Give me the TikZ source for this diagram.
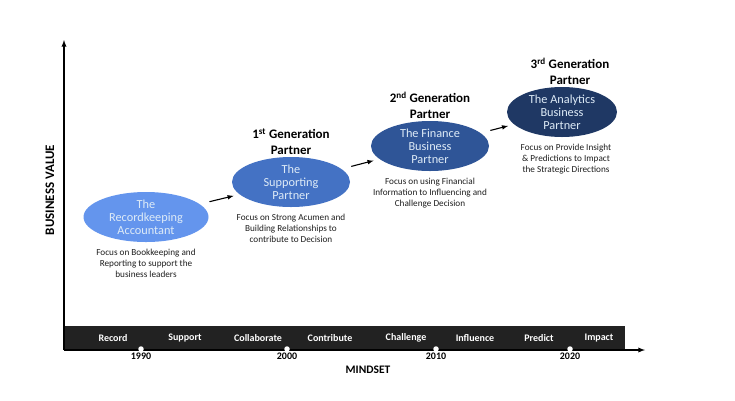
\documentclass[tikz,border=0pt]{standalone}
\usepackage{fontspec}
\setmainfont{Carlito}
\usetikzlibrary{shapes.geometric, arrows, positioning}
\definecolor{recblue}{RGB}{100,149,237}
\definecolor{supblue}{RGB}{68,114,196}
\definecolor{finblue}{RGB}{47,85,151}
\definecolor{anablue}{RGB}{31,56,100}
\definecolor{elltext}{RGB}{222,235,247}
\definecolor{bandgray}{RGB}{34,34,34}
\definecolor{desctext}{RGB}{30,30,30}
\begin{document}
\begin{tikzpicture}[x=1pt, y=-1pt, node distance=2pt,
	role/.style={ellipse, inner sep=0pt, minimum height=50pt, text=elltext, align=center, font=\fontsize{12.3}{13}\selectfont},
	gen/.style={align=center, inner sep=0pt, font=\bfseries\fontsize{13}{16}\selectfont},
	desc/.style={align=center, inner sep=0pt, text=desctext, font=\fontsize{9.2}{11}\selectfont},
	word/.style={text=white, font=\bfseries\fontsize{10}{11}\selectfont},
	tick/.style={circle, fill=white, inner sep=0pt, minimum size=5.5pt},
	year/.style={inner sep=1pt, font=\bfseries\fontsize{10}{11}\selectfont},
	axislabel/.style={font=\bfseries\fontsize{11.5}{12}\selectfont}]
		\useasboundingbox (0,0) rectangle (735,400);
		
		\node[fill=bandgray, anchor=north west, inner sep=0pt, minimum width=561pt, minimum height=24pt] (band) at (64,326) {};
		\coordinate (origin) at (64,350);
		\coordinate (ytop) at (64,40);
		\coordinate (xend) at (645,350);
		\draw[-latex, line width=1.3pt] (origin) to (ytop);
		\draw[-latex, line width=1.3pt] (origin) to (xend);
		
		\node[role, fill=recblue, minimum width=125pt] (rec) at (146,217) {The\\Recordkeeping\\Accountant};
		\node[role, fill=supblue, minimum width=118pt] (sup) at (291,182) {The\\Supporting\\Partner};
		\node[role, fill=finblue, minimum width=118pt] (fin) at (430,146) {The Finance\\Business\\Partner};
		\node[role, fill=anablue, minimum width=110pt] (ana) at (562,112) {The Analytics\\Business\\Partner};
		
		\node[gen, above = of sup] (gen1) {1\textsuperscript{st} Generation\\Partner};
		\node[gen, above = of fin] (gen2) {2\textsuperscript{nd} Generation\\Partner};
		\node[gen, above = of ana, xshift=8pt] (gen3) {3\textsuperscript{rd} Generation\\Partner};
		
		\node[desc, below = 6.5pt of rec] (recdesc) {Focus on Bookkeeping and\\Reporting to support the\\business leaders};
		\node[desc, below = 6.5pt of sup] (supdesc) {Focus on Strong Acumen and\\Building Relationships to\\contribute to Decision};
		\node[desc, below = 6.5pt of fin] (findesc) {Focus on using Financial\\Information to Influencing and\\Challenge Decision};
		\node[desc, below = 6.5pt of ana, xshift=4pt] (anadesc) {Focus on Provide Insight\\\& Predictions to Impact\\the Strategic Directions};
		
		\draw[-latex, line width=1.1pt, shorten <=10pt, shorten >=6pt] (rec) to (sup);
		\draw[-latex, line width=1.1pt, shorten <=10pt, shorten >=6pt] (sup) to (fin);
		\draw[-latex, line width=1.1pt, shorten <=10pt, shorten >=6pt] (fin) to (ana);
		
		\node[word] (record) at (113,338) {Record};
		\node[word] (support) at (185,338) {Support};
		\node[word] (collaborate) at (258,338) {Collaborate};
		\node[word] (contribute) at (330,338) {Contribute};
		\node[word] (challenge) at (406,338) {Challenge};
		\node[word] (influence) at (475,338) {Influence};
		\node[word] (predict) at (539,338) {Predict};
		\node[word] (impact) at (599,338) {Impact};
		
		\node[tick] (t1990) at (141,349) {};
		\node[tick] (t2000) at (287,349) {};
		\node[tick] (t2010) at (436,349) {};
		\node[tick] (t2020) at (570,349) {};
		\node[year, below = 0pt of t1990] (y1990) {1990};
		\node[year, below = 0pt of t2000] (y2000) {2000};
		\node[year, below = 0pt of t2010] (y2010) {2010};
		\node[year, below = 0pt of t2020] (y2020) {2020};
		
		\node[axislabel] (mindset) at (368,370) {MINDSET};
		\node[axislabel, font=\bfseries\fontsize{13}{14}\selectfont, rotate=90] (value) at (50,190) {BUSINESS VALUE};
		
\end{tikzpicture}
\end{document}
